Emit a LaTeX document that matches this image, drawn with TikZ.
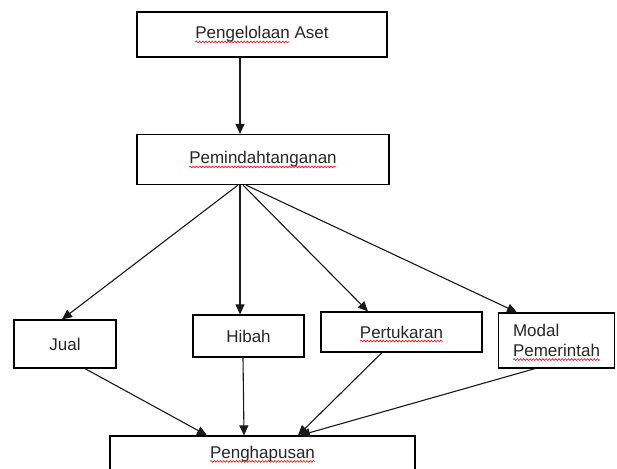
\documentclass[tikz,border=0pt]{standalone}
\usepackage{fontspec}
\setmainfont{Liberation Sans}
\usetikzlibrary{arrows.meta,decorations.pathmorphing}
\tikzset{
  box/.style={draw=black, line width=1.2pt, inner sep=0pt, font=\fontsize{17}{20}\selectfont, text=black!85},
  conn/.style={draw=black!90, line width=1.1pt, -{Triangle[length=10pt,width=9pt]}},
  wavy/.style={red, line width=0.6pt, decorate, decoration={snake, amplitude=0.9pt, segment length=3.2pt}}
}
\newcommand\spellerr[1]{\tikz[baseline=0pt,x=1pt,y=1pt]{\node[draw=none,fill=none,minimum width=0pt,minimum height=0pt,inner sep=0pt,outer sep=0pt,anchor=base west,font=\fontsize{17}{20}\selectfont,text=black!85] (sw) at (0,0) {#1};\draw[wavy,overlay] ([yshift=-3pt]sw.base west) -- ([yshift=-3pt]sw.base east);}}
\begin{document}
\begin{tikzpicture}[x=1pt,y=-1pt]
\clip (0,0) rectangle (617,468);
\fill[white] (0,0) rectangle (617,468);
\node[box, minimum width=250pt, minimum height=45pt] (A) at (262,34.5) {\spellerr{Pengelolaan} Aset};
\node[box, minimum width=252pt, minimum height=50pt] (B) at (263,159.5) {\spellerr{Pemindahtanganan}};
\node[box, minimum width=102pt, minimum height=48pt] (J) at (65,344) {Jual};
\node[box, minimum width=111pt, minimum height=42pt] (H) at (248.5,336) {Hibah};
\node[box, minimum width=161pt, minimum height=40pt] (P) at (401.5,332) {\spellerr{Pertukaran}};
\node[box, minimum width=116pt, minimum height=55pt, align=left] (M) at (556.5,340.5) {Modal\\\spellerr{Pemerintah}};
\node[box, minimum width=305pt, minimum height=36pt] (G) at (262.5,454) {\spellerr{Penghapusan}};

\draw[conn] ([xshift=-22pt]A.south) -- ([xshift=-23pt]B.north);
\draw[conn] ([xshift=-25pt]B.south) -- ([xshift=-3pt]J.north);
\draw[conn] ([xshift=-23pt]B.south) -- ([xshift=-8.5pt]H.north);
\draw[conn] ([xshift=-20pt]B.south) -- ([xshift=-33.5pt]P.north);
\draw[conn] ([xshift=-17pt]B.south) -- ([xshift=-39.5pt]M.north);

\draw[conn] ([xshift=20pt]J.south) -- ([xshift=-55.5pt]G.north);
\draw[conn] ([xshift=-5.5pt]H.south) -- ([xshift=-18.5pt]G.north);
\draw[conn] ([xshift=-19.5pt]P.south) -- ([xshift=35.5pt]G.north);
\draw[conn] ([xshift=-21.5pt]M.south) -- ([xshift=37.5pt]G.north);
\end{tikzpicture}
\end{document}
